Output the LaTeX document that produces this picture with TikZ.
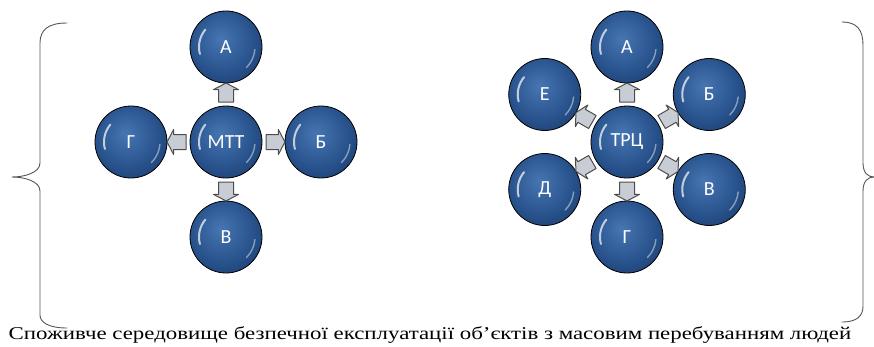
\documentclass[tikz,border=0pt]{standalone}
\usepackage{fontspec}
\setmainfont{Liberation Serif}
\newfontfamily\ballfont{Carlito}
\usetikzlibrary{shapes.arrows,calc}
\definecolor{balllight}{RGB}{70,118,178}
\definecolor{ballblue}{RGB}{40,82,140}
\definecolor{balldark}{RGB}{18,44,88}
\definecolor{arrowgray}{RGB}{200,204,212}
\definecolor{bracegray}{RGB}{85,85,85}
\pgfdeclareradialshading{ballshade}{\pgfpoint{-4bp}{6bp}}{color(0bp)=(balllight); color(22bp)=(ballblue); color(44bp)=(balldark); color(70bp)=(balldark)}
\tikzset{
	ball/.style={circle, draw=black, line width=0.8pt, minimum size=72pt, inner sep=0pt,
		shading=ballshade, text=white,
		font=\ballfont\fontsize{20}{20}\selectfont,
		path picture={
			\draw[white, opacity=0.7, line width=2pt] ($(path picture bounding box.center)+(140:27pt)$) arc[start angle=140, end angle=195, radius=27pt];
			\draw[white, opacity=0.45, line width=1.4pt] ($(path picture bounding box.center)+(-5:29pt)$) arc[start angle=-5, end angle=-45, radius=29pt];
		}},
	hubball/.style={ball},
	blockarrow/.style={single arrow, draw=black!70, fill=arrowgray, line width=1pt,
		inner sep=7pt, minimum height=16pt, single arrow head extend=5pt, single arrow tip angle=125}
}
\begin{document}
\begin{tikzpicture}[x=1pt, y=1pt, line join=round, line cap=round]
			%Khung.
			\useasboundingbox (0,0) rectangle (874,346);
			%Gán tọa độ.
			\coordinate (O1) at (226,204);
			\coordinate (O2) at (627,204);
			%Nhóm MTT.
			\node[hubball] (mtt) at (O1) {МТТ};
			\foreach \ten/\chu/\goc in {mtta/А/90, mttb/Б/0, mttv/В/-90, mtth/Г/180}{
				\node[ball] (\ten) at ($(O1)+(\goc:95)$) {\chu};
				\node[blockarrow, rotate=\goc] (\ten-ar) at ($(mtt)!0.5!(\ten)$) {};
			}
			%Nhóm ТРЦ.
			\node[hubball] (trc) at (O2) {ТРЦ};
			\foreach \ten/\chu/\goc in {trca/А/90, trcb/Б/30, trcv/В/-30, trch/Г/-90, trcd/Д/210, trce/Е/150}{
				\node[ball] (\ten) at ($(O2)+(\goc:95)$) {\chu};
				\node[blockarrow, rotate=\goc] (\ten-ar) at ($(trc)!0.5!(\ten)$) {};
			}
			%Dấu ngoặc.
			\draw[bracegray, line width=0.9pt] (67,323) .. controls (48,323) and (40,316) .. (40,303) -- (40,183) .. controls (40,173) and (24,169) .. (12,169) .. controls (24,169) and (40,165) .. (40,155) -- (40,31) .. controls (40,24) and (48,18) .. (67,18);
			\draw[bracegray, line width=0.9pt] (842,324) .. controls (857,324) and (863,316) .. (863,301) -- (863,183) .. controls (863,173) and (868,169) .. (874,169) .. controls (868,169) and (863,165) .. (863,155) -- (863,40) .. controls (863,30) and (857,24) .. (842,24);
			%Chú thích.
			\node[font=\fontsize{18}{18}\selectfont, xscale=1.27, anchor=base, inner sep=0pt] (caption) at (430,7) {Споживче середовище безпечної експлуатації об’єктів з масовим перебуванням людей};
		\end{tikzpicture}
\end{document}
